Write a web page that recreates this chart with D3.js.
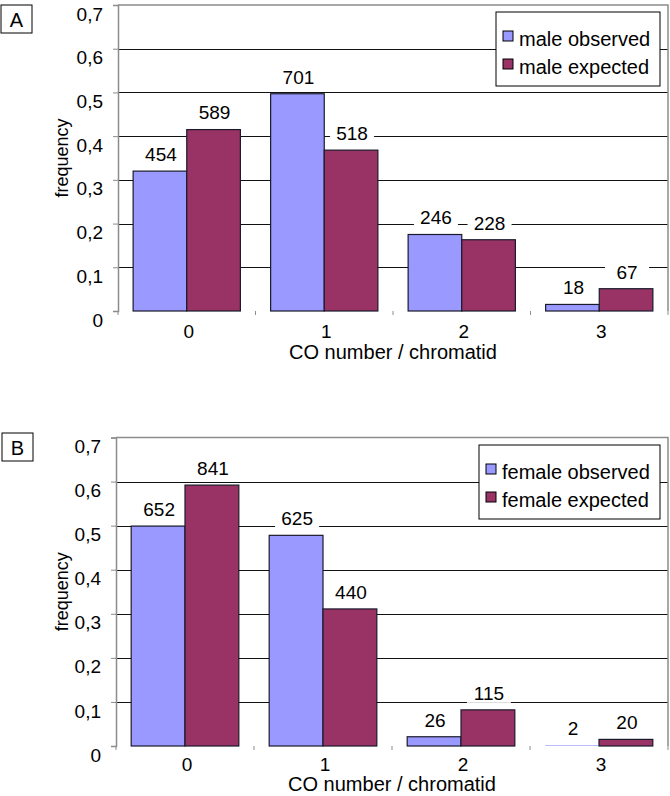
<!DOCTYPE html>
<html>
<head>
<meta charset="utf-8">
<script src="https://cdn.jsdelivr.net/npm/d3@7"></script>
<style>
  body { margin: 0; background: #fff; }
  text { font-family: "Liberation Sans", Arial, Helvetica, sans-serif; fill: #000; }
</style>
</head>
<body>
<div id="chart"></div>
<script>
// data
const categories = ["0", "1", "2", "3"];
const yTicks = [0, 0.1, 0.2, 0.3, 0.4, 0.5, 0.6, 0.7];
const yTickLabels = ["0", "0,1", "0,2", "0,3", "0,4", "0,5", "0,6", "0,7"];

const maleObserved = [0.320, 0.497, 0.175, 0.015];
const maleExpected = [0.415, 0.368, 0.163, 0.051];
const maleObservedCounts = [454, 701, 246, 18];
const maleExpectedCounts = [589, 518, 228, 67];

const femaleObserved = [0.499, 0.478, 0.021, 0.0015];
const femaleExpected = [0.592, 0.311, 0.082, 0.015];
const femaleObservedCounts = [652, 625, 26, 2];
const femaleExpectedCounts = [841, 440, 115, 20];

const colors = { observed: "#9999ff", expected: "#993366" };

const svg = d3.select("#chart").append("svg")
    .attr("width", 670)
    .attr("height", 796);

function drawPanel(p) {
    const g = svg.append("g");

    const x = d3.scaleBand()
        .domain(categories)
        .range([p.left, p.right])
        .paddingInner(0.22)
        .paddingOuter(0.11);

    const xSub = d3.scaleBand()
        .domain(["observed", "expected"])
        .range([0, x.bandwidth()]);

    const y = d3.scaleLinear()
        .domain([0, 0.7])
        .range([p.bottom, p.top]);

    // gridlines (black), frame (grey)
    g.append("g").selectAll("line")
        .data(yTicks.filter(d => d > 0 && d < 0.7))
        .join("line")
        .attr("x1", p.left).attr("x2", p.right)
        .attr("y1", d => Math.round(y(d)) + 0.5).attr("y2", d => Math.round(y(d)) + 0.5)
        .attr("stroke", "#111")
        .attr("stroke-width", 1.2);

    g.append("path")
        .attr("d", `M${p.left},${y(0.7)}H${p.right}V${y(0)}`)
        .attr("fill", "none")
        .attr("stroke", "#8c8c8c")
        .attr("stroke-width", 1.5);

    // bars
    const rows = categories.map((c, i) => [
        { cat: c, key: "observed", value: p.observed[i], count: p.observedCounts[i] },
        { cat: c, key: "expected", value: p.expected[i], count: p.expectedCounts[i] }
    ]).flat();

    g.append("g").selectAll("rect")
        .data(rows)
        .join("rect")
        .attr("x", d => x(d.cat) + xSub(d.key))
        .attr("y", d => y(d.value))
        .attr("width", xSub.bandwidth())
        .attr("height", d => y(0) - y(d.value))
        .attr("fill", d => colors[d.key])
        // bars thinner than a pixel vanish into the axis
        .attr("stroke", d => (y(0) - y(d.value) < 1 ? "none" : "#1a1a2a"))
        .attr("stroke-width", 1.2);

    // value labels with white boxes
    const labels = g.append("g").selectAll("g")
        .data(rows)
        .join("g")
        .attr("transform", d => `translate(${x(d.cat) + xSub(d.key) + xSub.bandwidth() / 2 + 1}, ${y(d.value) - 17})`);

    labels.append("rect")
        .attr("x", -22).attr("y", -10)
        .attr("width", 44).attr("height", 20)
        .attr("fill", "#fff");

    labels.append("text")
        .attr("text-anchor", "middle")
        .attr("dy", "0.36em")
        .style("font-size", "19px")
        .text(d => d.count);

    // y axis
    const yAxis = g.append("g")
        .attr("transform", `translate(${p.left},0)`)
        .call(d3.axisLeft(y)
            .tickValues(yTicks)
            .tickFormat((d, i) => yTickLabels[i])
            .tickSize(5)
            .tickPadding(10));
    yAxis.select(".domain").attr("stroke", "#8c8c8c").attr("stroke-width", 1.5);
    yAxis.selectAll(".tick line").attr("stroke", "#8c8c8c");
    yAxis.selectAll(".tick text")
        .attr("y", 9)
        .style("font-size", "19px")
        .style("font-family", "Liberation Sans, Arial, sans-serif")
        .attr("fill", "#000");

    // x axis: ticks on the category boundaries
    const bounds = d3.range(categories.length + 1).map(i => p.left + i * x.step());
    g.append("g").selectAll("line")
        .data(bounds)
        .join("line")
        .attr("x1", d => d).attr("x2", d => d)
        .attr("y1", y(0)).attr("y2", y(0) + 4)
        .attr("stroke", "#8c8c8c");

    g.append("g").selectAll("text")
        .data(categories)
        .join("text")
        .attr("x", d => x(d) + x.bandwidth() / 2 + 2)
        .attr("y", y(0) + p.tickDy)
        .attr("text-anchor", "middle")
        .style("font-size", "19px")
        .text(d => d);

    g.append("text")
        .attr("x", (p.left + p.right) / 2)
        .attr("y", y(0) + p.titleDy)
        .attr("text-anchor", "middle")
        .style("font-size", "20px")
        .text("CO number / chromatid");

    g.append("text")
        .attr("transform", `translate(68, ${(p.top + p.bottom) / 2}) rotate(-90)`)
        .attr("text-anchor", "middle")
        .style("font-size", "18px")
        .text("frequency");

    // panel letter
    g.append("rect")
        .attr("x", p.letterX).attr("y", p.letterY)
        .attr("width", 31).attr("height", 28)
        .attr("fill", "#fff")
        .attr("stroke", "#000");
    g.append("text")
        .attr("x", p.letterX + 15.5).attr("y", p.letterY + 21.5)
        .attr("text-anchor", "middle")
        .style("font-size", "20px")
        .text(p.letter);

    // legend
    const lg = g.append("g").attr("transform", `translate(${p.legend.x}, ${p.legend.y})`);
    lg.append("rect")
        .attr("width", p.legend.w).attr("height", p.legend.h)
        .attr("fill", "#fff")
        .attr("stroke", "#000");
    const items = lg.selectAll("g.item")
        .data(p.legendNames)
        .join("g")
        .attr("class", "item")
        .attr("transform", (d, i) => `translate(7, ${19 + i * 28})`);
    items.append("rect")
        .attr("width", 10).attr("height", 10)
        .attr("fill", d => colors[d.key])
        .attr("stroke", "#000");
    items.append("text")
        .attr("x", 16).attr("y", 15)
        .style("font-size", "20px")
        .text(d => d.name);
}

drawPanel({
    left: 118, right: 668, top: 5, bottom: 311,
    tickDy: 27, titleDy: 48,
    observed: maleObserved, expected: maleExpected,
    observedCounts: maleObservedCounts, expectedCounts: maleExpectedCounts,
    letter: "A", letterX: 1, letterY: 5,
    legend: { x: 496, y: 12, w: 164, h: 74 },
    legendNames: [{ key: "observed", name: "male observed" }, { key: "expected", name: "male expected" }]
});

drawPanel({
    left: 116, right: 668, top: 437.5, bottom: 746,
    tickDy: 25, titleDy: 45,
    observed: femaleObserved, expected: femaleExpected,
    observedCounts: femaleObservedCounts, expectedCounts: femaleExpectedCounts,
    letter: "B", letterX: 2, letterY: 433,
    legend: { x: 479, y: 445, w: 181, h: 74 },
    legendNames: [{ key: "observed", name: "female observed" }, { key: "expected", name: "female expected" }]
});
</script>
</body>
</html>
